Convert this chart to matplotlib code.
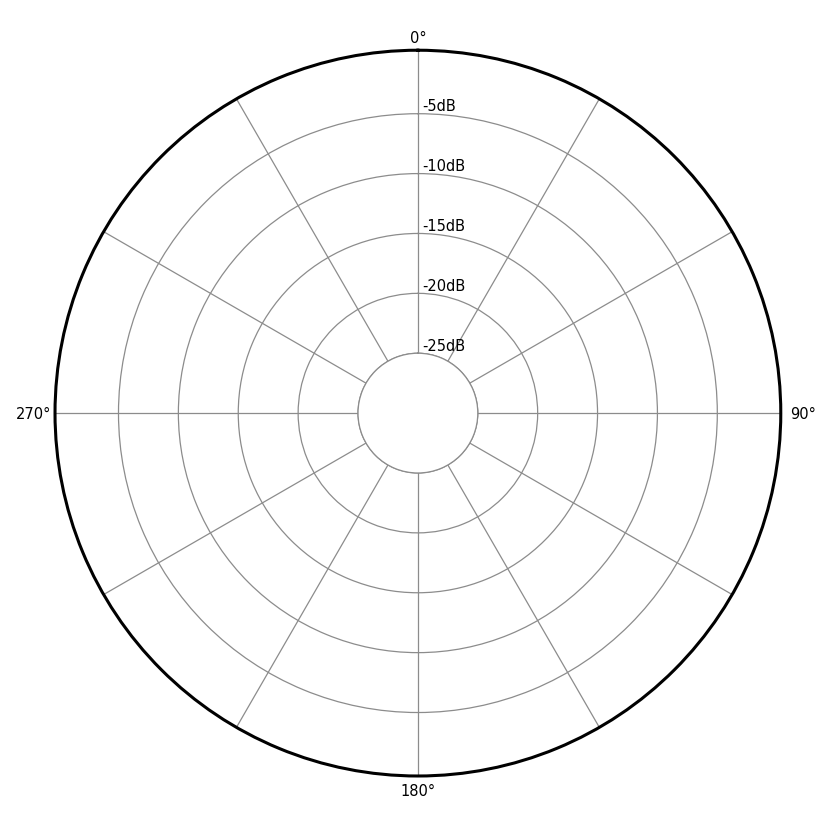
import numpy as np
import matplotlib
matplotlib.use("Agg")
import matplotlib.pyplot as plt

# radial rings (dB) and their labels
db_levels = [-25, -20, -15, -10, -5]
db_labels = ["-25dB", "-20dB", "-15dB", "-10dB", "-5dB"]
r_min, r_max, r_origin = -25, 0.3, -30

# angular grid every 30 degrees, only the quarters labelled
angles = list(range(0, 360, 30))
label_angles = [0, 90, 180, 270]
label_texts = ["0°", "90°", "180°", "270°"]

fig = plt.figure(figsize=(8.4, 8.4), dpi=100)
ax = fig.add_axes([0.0655, 0.0762, 0.864, 0.864], projection="polar")

ax.set_theta_zero_location("N")
ax.set_theta_direction(-1)
ax.set_rlim(r_min, r_max)
ax.set_rorigin(r_origin)

ax.set_thetagrids(angles, [""] * len(angles))
ax.set_rgrids(db_levels, [""] * len(db_levels))

# angle labels outside the rim
offsets = {0: ((0, 2.7), "center", "bottom"),
           90: ((6.5, -1), "left", "center"),
           180: ((0, -5.9), "center", "top"),
           270: ((-2.9, -1), "right", "center")}
for a, text in zip(label_angles, label_texts):
    off, ha, va = offsets[a]
    ax.annotate(text, xy=(np.deg2rad(a), r_max), xytext=off, textcoords="offset points",
                ha=ha, va=va, fontsize=10.5, annotation_clip=False)

# dB labels just right of the 0° spoke, sitting on each ring
for level, text in zip(db_levels, db_labels):
    ax.annotate(text, xy=(0, level), xytext=(3, -0.5), textcoords="offset points",
                ha="left", va="bottom", fontsize=10.5)

ax.grid(True, color="#8c8c8c", linewidth=0.9)
ax.spines["polar"].set_linewidth(2.2)
ax.spines["polar"].set_color("black")
ax.spines["inner"].set_color("#8c8c8c")
ax.spines["inner"].set_linewidth(0.9)

fig.savefig("out.png", dpi=100)
